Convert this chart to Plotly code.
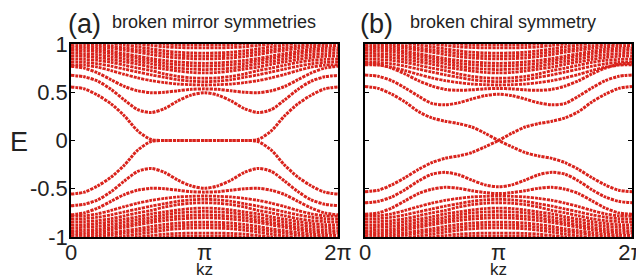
import math
import plotly.graph_objects as go

# kz grid on [0, pi] in units of pi (bands are mirror symmetric about kz = pi)
K_HALF = [0.0, 0.1, 0.2, 0.3, 0.4, 0.5, 0.6, 0.7, 0.8, 0.9, 1.0]

# ---- panel (a): broken mirror symmetries (half arrays, kz = 0..pi) ----
A_ZERO_LOW = [-0.555, -0.535, -0.47, -0.38, -0.255, -0.10, -0.01, 0.0, 0.0, 0.0, 0.0]
A_ZERO_UP = [0.555, 0.535, 0.47, 0.38, 0.255, 0.10, 0.01, 0.0, 0.0, 0.0, 0.0]
A_BAND2_UP = [0.675, 0.66, 0.615, 0.53, 0.42, 0.32, 0.29, 0.33, 0.41, 0.47, 0.495]
A_BAND2_LOW = [-0.675, -0.66, -0.615, -0.53, -0.42, -0.32, -0.29, -0.33, -0.41, -0.47, -0.495]
A_BAND1_UP = [0.77, 0.75, 0.70, 0.63, 0.56, 0.515, 0.495, 0.50, 0.515, 0.53, 0.535]
A_BAND1_LOW = [-0.77, -0.75, -0.70, -0.63, -0.56, -0.515, -0.495, -0.50, -0.515, -0.53, -0.535]

# ---- panel (b): broken chiral symmetry ----
B_CROSS_UP = [0.56, 0.54, 0.48, 0.40, 0.30, 0.235, 0.20, 0.175, 0.14, 0.075, 0.0]
B_CROSS_LOW = [-0.53, -0.515, -0.46, -0.385, -0.30, -0.23, -0.185, -0.16, -0.125, -0.065, 0.0]
B_BAND2_UP = [0.68, 0.665, 0.62, 0.545, 0.46, 0.385, 0.37, 0.39, 0.43, 0.465, 0.48]
B_BAND2_LOW = [-0.645, -0.63, -0.585, -0.51, -0.42, -0.35, -0.33, -0.355, -0.41, -0.46, -0.48]
B_BAND1_UP = [0.80, 0.79, 0.75, 0.69, 0.62, 0.565, 0.53, 0.52, 0.525, 0.535, 0.54]
B_BAND1_LOW = [-0.765, -0.75, -0.70, -0.625, -0.55, -0.505, -0.485, -0.495, -0.52, -0.54, -0.55]

# ---- bulk continuum bands (upper side; lower side is the mirror in E) ----
CONT = [
    [0.785, 0.78, 0.76, 0.725, 0.685, 0.65, 0.62, 0.60, 0.585, 0.578, 0.575],
    [0.815, 0.81, 0.795, 0.77, 0.74, 0.71, 0.68, 0.655, 0.63, 0.615, 0.61],
    [0.845, 0.84, 0.83, 0.81, 0.78, 0.75, 0.725, 0.69, 0.665, 0.65, 0.645],
    [0.875, 0.872, 0.86, 0.84, 0.815, 0.79, 0.76, 0.74, 0.72, 0.705, 0.70],
    [0.905, 0.90, 0.89, 0.87, 0.845, 0.82, 0.795, 0.77, 0.75, 0.74, 0.735],
    [0.935, 0.93, 0.92, 0.90, 0.875, 0.85, 0.825, 0.80, 0.785, 0.775, 0.77],
    [0.96, 0.955, 0.945, 0.925, 0.90, 0.875, 0.85, 0.83, 0.815, 0.805, 0.80],
    [0.985, 0.98, 0.97, 0.955, 0.935, 0.915, 0.89, 0.87, 0.855, 0.848, 0.845],
    [1.01, 1.005, 0.995, 0.98, 0.96, 0.94, 0.92, 0.90, 0.885, 0.878, 0.875],
    [1.04, 1.035, 1.025, 1.01, 0.99, 0.97, 0.95, 0.93, 0.915, 0.908, 0.905],
    [1.07, 1.065, 1.055, 1.04, 1.02, 1.0, 0.985, 0.97, 0.963, 0.96, 0.96],
    [1.10, 1.095, 1.085, 1.07, 1.05, 1.03, 1.015, 1.0, 0.993, 0.99, 0.99],
]

Y_TICKS = [1, 0.5, 0, -0.5, -1]
Y_LABELS = ["1", "0.5", "0", "-0.5", "-1"]
X_LABELS = ["0", "π", "2π"]

RED = "rgb(217,35,28)"
FONT = "Liberation Sans, Arial, sans-serif"

K_FULL = K_HALF + [2.0 - k for k in K_HALF[-2::-1]]
X_FULL = [k * math.pi for k in K_FULL]


def mirror(h):
    return h + h[-2::-1]


def joined(left, right):
    # band on [0, pi] from `left`, continued on [pi, 2pi] as the mirror of `right`
    return left + right[-2::-1]


fig = go.Figure()


def add(vals, ax, width=2.4):
    fig.add_trace(go.Scatter(
        x=X_FULL, y=vals, mode="lines", xaxis="x" + ax, yaxis="y" + ax,
        line=dict(color=RED, width=width, shape="spline", smoothing=0.8, dash="3px,1px"),
        showlegend=False, hoverinfo="skip"))


for ax in ["", "2"]:
    for band in CONT:
        add(mirror(band), ax, 2.8)
        add(mirror([-v for v in band]), ax, 2.8)

for band in [A_ZERO_LOW, A_ZERO_UP, A_BAND2_UP, A_BAND2_LOW, A_BAND1_UP, A_BAND1_LOW]:
    add(mirror(band), "", 3.0)

add(joined(B_CROSS_LOW, B_CROSS_UP), "2", 3.0)
add(joined(B_CROSS_UP, B_CROSS_LOW), "2", 3.0)
for band in [B_BAND2_UP, B_BAND2_LOW, B_BAND1_UP, B_BAND1_LOW]:
    add(mirror(band), "2", 3.0)

# page has an 8px body margin: figure placed at (8, 8), reaching the window edges
OFF = 8
W, H = 644 - OFF, 278 - OFF


def px(xp):
    return (xp - OFF) / W


def py(yp):
    return (H - (yp - OFF)) / H


ydom = [py(237), py(44)]

axis_common = dict(showline=True, linecolor="black", linewidth=1.5, mirror=True,
                   showgrid=False, zeroline=False, automargin=False)

xcommon = dict(axis_common, range=[0, 2 * math.pi], tickvals=[0, math.pi, 2 * math.pi],
               ticktext=X_LABELS, ticks="", ticklen=0, ticklabelstandoff=-5,
               ticklabeloverflow="allow",
               tickfont=dict(family=FONT, size=22, color="#222"))
ycommon = dict(axis_common, range=[-1, 1], tickvals=Y_TICKS, ticktext=Y_LABELS,
               ticks="inside", ticklen=4, tickcolor="black", tickwidth=1, mirror="ticks",
               ticklabelstandoff=-3,
               domain=ydom, tickfont=dict(family=FONT, size=22, color="#222"))

fig.update_layout(
    width=W, height=H, margin=dict(l=0, r=0, t=0, b=0, autoexpand=False),
    paper_bgcolor="white", plot_bgcolor="white",
    xaxis=dict(xcommon, domain=[px(71), px(338)], anchor="y"),
    yaxis=dict(ycommon, anchor="x"),
    xaxis2=dict(xcommon, domain=[px(365), px(632)], anchor="y2"),
    yaxis2=dict(ycommon, anchor="x2", showticklabels=False),
)

ann = [
    dict(text="(a)", x=px(66), y=py(24), xanchor="left", size=27),
    dict(text="broken mirror symmetries", x=px(110), y=py(22), xanchor="left", size=18),
    dict(text="(b)", x=px(358), y=py(24), xanchor="left", size=27),
    dict(text="broken chiral symmetry", x=px(408), y=py(22), xanchor="left", size=18),
    dict(text="E", x=px(19), y=py(142), xanchor="center", size=27),
    dict(text="kz", x=px(204.5), y=py(269), xanchor="center", size=17),
    dict(text="kz", x=px(498.5), y=py(269), xanchor="center", size=17),
]
for a in ann:
    fig.add_annotation(text=a["text"], x=a["x"], y=a["y"], xref="paper", yref="paper",
                       xanchor=a["xanchor"], yanchor="middle", showarrow=False,
                       font=dict(family=FONT, size=a["size"], color="#222"))

fig.write_html("out.html")
